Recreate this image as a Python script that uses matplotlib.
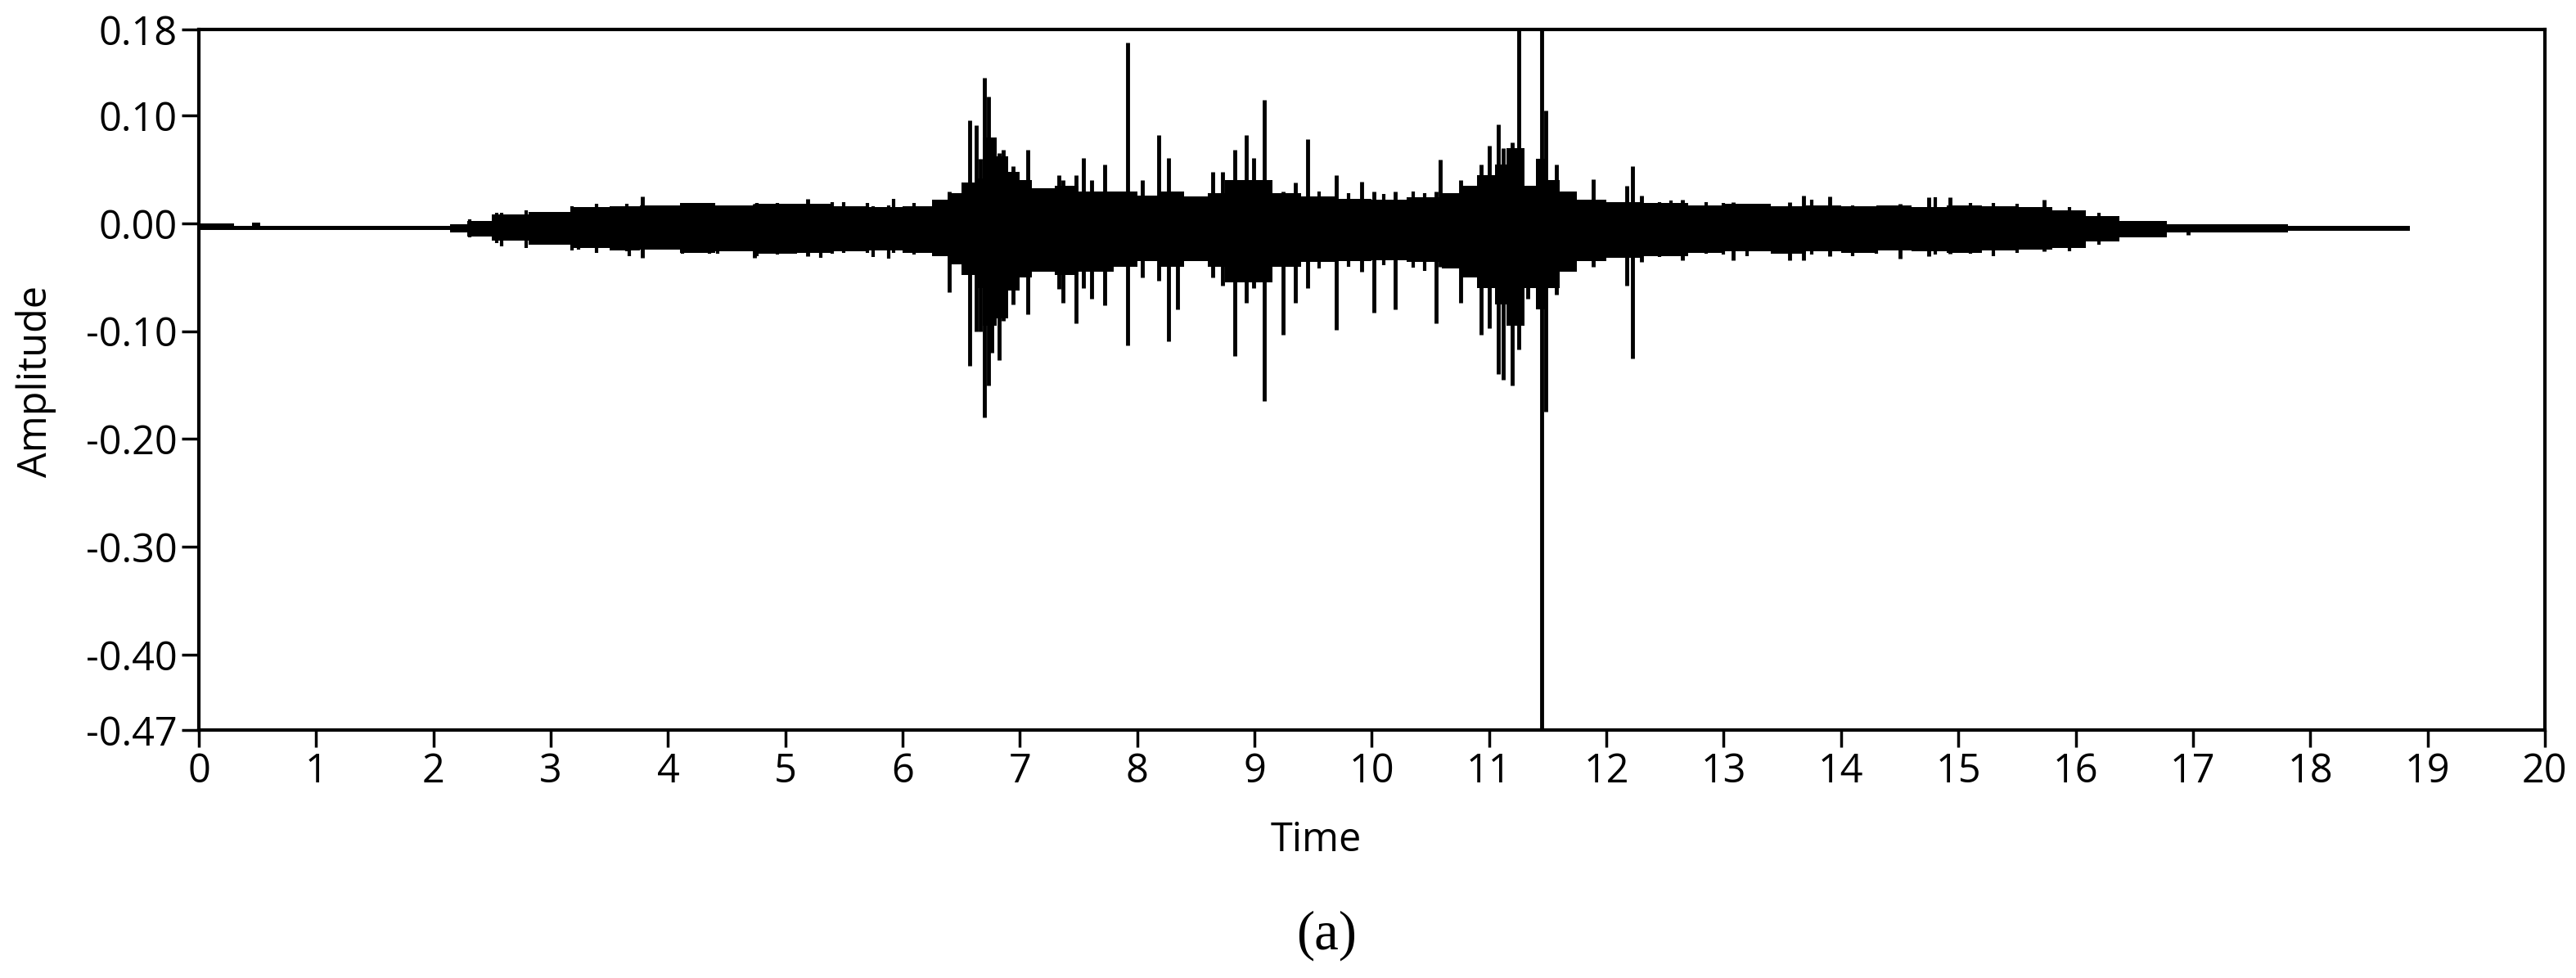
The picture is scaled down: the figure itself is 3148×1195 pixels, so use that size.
import numpy as np
import matplotlib
matplotlib.use("Agg")
import matplotlib.pyplot as plt

# envelope of the dense part of the signal (step-wise)
env_t = [0.0, 0.3, 0.45, 0.52, 2.14, 2.29, 2.5, 2.81, 3.18, 3.5, 3.76, 4.1, 4.4,
         4.74, 5.1, 5.4, 5.7, 6.0, 6.25, 6.4, 6.5, 6.62, 6.68, 6.8, 6.9, 7.0,
         7.1, 7.3, 7.5, 7.8, 8.0, 8.2, 8.4, 8.6, 8.75, 9.15, 9.4, 9.7, 10.0,
         10.3, 10.6, 10.75, 10.9, 11.05, 11.15, 11.3, 11.4, 11.5, 11.6, 11.75,
         12.0, 12.3, 12.7, 13.0, 13.4, 13.7, 14.0, 14.3, 14.6, 14.9, 15.2, 15.5,
         15.8, 16.09, 16.37, 16.78, 17.81, 18.33, 18.85]
env_hi = [0.000, -0.002, 0.001, -0.002, -0.001, 0.002, 0.008, 0.011, 0.015,
          0.016, 0.017, 0.019, 0.017, 0.018, 0.018, 0.016, 0.015, 0.016, 0.022,
          0.028, 0.038, 0.042, 0.080, 0.062, 0.048, 0.040, 0.033, 0.035, 0.030,
          0.030, 0.026, 0.030, 0.025, 0.028, 0.040, 0.028, 0.025, 0.023, 0.022,
          0.024, 0.028, 0.035, 0.045, 0.055, 0.070, 0.035, 0.060, 0.040, 0.030,
          0.022, 0.020, 0.019, 0.017, 0.018, 0.016, 0.017, 0.016, 0.017, 0.015,
          0.017, 0.016, 0.015, 0.012, 0.007, 0.002, -0.001, -0.002, -0.002, -0.002]
env_lo = [-0.006, -0.006, -0.006, -0.006, -0.008, -0.012, -0.016, -0.020,
          -0.023, -0.025, -0.024, -0.027, -0.026, -0.028, -0.027, -0.026,
          -0.025, -0.027, -0.030, -0.038, -0.048, -0.060, -0.095, -0.088,
          -0.062, -0.050, -0.045, -0.048, -0.045, -0.040, -0.035, -0.040,
          -0.035, -0.040, -0.055, -0.040, -0.036, -0.035, -0.034, -0.036,
          -0.042, -0.050, -0.060, -0.075, -0.095, -0.060, -0.080, -0.060,
          -0.045, -0.035, -0.032, -0.030, -0.027, -0.026, -0.028, -0.026,
          -0.027, -0.025, -0.026, -0.027, -0.025, -0.024, -0.023, -0.017,
          -0.013, -0.008, -0.007, -0.007, -0.007]

# single spikes sticking out of the envelope: time, top, bottom
spike_t = [3.78, 4.74, 5.19, 6.40, 6.57, 6.63, 6.66, 6.70, 6.73, 6.76, 6.82,
           6.86, 6.94, 7.07, 7.33, 7.37, 7.48, 7.54, 7.61, 7.72, 7.92, 8.04,
           8.18, 8.27, 8.34, 8.64, 8.73, 8.83, 8.93, 8.99, 9.08, 9.24, 9.35,
           9.45, 9.70, 9.91, 10.02, 10.20, 10.55, 10.58, 10.76, 10.93, 11.00,
           11.08, 11.12, 11.20, 11.25, 11.33, 11.45, 11.48, 11.57, 11.89, 12.17,
           12.22, 12.30, 12.65, 13.08, 13.56, 13.68, 13.90, 14.50, 14.75, 14.93,
           15.73, 16.96]
spike_hi = [0.025, 0.018, 0.023, 0.030, 0.096, 0.091, 0.060, 0.135, 0.118,
            0.070, 0.065, 0.068, 0.053, 0.068, 0.045, 0.040, 0.045, 0.061,
            0.040, 0.055, 0.168, 0.040, 0.082, 0.061, 0.030, 0.048, 0.048,
            0.068, 0.082, 0.061, 0.115, 0.030, 0.038, 0.078, 0.045, 0.039,
            0.030, 0.030, 0.030, 0.059, 0.040, 0.055, 0.072, 0.092, 0.070,
            0.075, 0.180, 0.035, 0.180, 0.105, 0.055, 0.041, 0.035, 0.053,
            0.026, 0.022, 0.020, 0.020, 0.026, 0.025, 0.018, 0.024, 0.024,
            0.022, -0.002]
spike_lo = [-0.032, -0.032, -0.030, -0.064, -0.132, -0.100, -0.100, -0.180,
            -0.150, -0.120, -0.127, -0.090, -0.075, -0.084, -0.061, -0.074,
            -0.093, -0.060, -0.070, -0.076, -0.113, -0.050, -0.053, -0.109,
            -0.080, -0.050, -0.058, -0.123, -0.074, -0.060, -0.165, -0.103,
            -0.074, -0.060, -0.099, -0.045, -0.083, -0.080, -0.093, -0.040,
            -0.074, -0.103, -0.097, -0.140, -0.145, -0.150, -0.117, -0.070,
            -0.470, -0.175, -0.066, -0.040, -0.058, -0.125, -0.036, -0.034,
            -0.034, -0.034, -0.034, -0.030, -0.033, -0.030, -0.028, -0.026,
            -0.011]

# small teeth on the edges of the noise band
teeth_t = [2.31, 2.54, 2.58, 2.79, 3.18, 3.24, 3.39, 3.65, 3.67, 4.12, 4.23,
           4.31, 4.35, 4.42, 4.76, 4.93, 5.30, 5.40, 5.50, 5.70, 5.75, 5.88,
           5.92, 6.10, 9.55, 9.80, 10.10, 10.35, 10.45, 12.45, 12.55, 12.85,
           13.00, 13.20, 13.45, 13.75, 14.10, 14.30, 14.80, 15.10, 15.30,
           15.50, 15.95, 16.20]
teeth_hi = [0.004, 0.010, 0.010, 0.012, 0.016, 0.015, 0.018, 0.018, 0.016,
            0.019, 0.019, 0.019, 0.018, 0.017, 0.019, 0.019, 0.018, 0.020,
            0.020, 0.019, 0.016, 0.017, 0.023, 0.019, 0.030, 0.028, 0.027,
            0.030, 0.028, 0.020, 0.021, 0.020, 0.019, 0.018, 0.016, 0.022,
            0.017, 0.016, 0.024, 0.019, 0.019, 0.018, 0.015, 0.010]
teeth_lo = [-0.013, -0.018, -0.021, -0.023, -0.025, -0.024, -0.027, -0.026,
            -0.030, -0.028, -0.027, -0.026, -0.028, -0.028, -0.030, -0.029,
            -0.032, -0.028, -0.027, -0.027, -0.031, -0.033, -0.027, -0.029,
            -0.042, -0.040, -0.039, -0.041, -0.044, -0.031, -0.030, -0.028,
            -0.029, -0.030, -0.028, -0.029, -0.030, -0.028, -0.029, -0.028,
            -0.030, -0.027, -0.026, -0.020]

x_ticks = list(range(0, 21))
y_ticks = [0.18, 0.10, 0.00, -0.10, -0.20, -0.30, -0.40, -0.47]
y_labels = ["0.18", "0.10", "0.00", "-0.10", "-0.20", "-0.30", "-0.40", "-0.47"]

plt.rcParams['font.family'] = ['Open Sans', 'DejaVu Sans']

fig = plt.figure(figsize=(31.48, 11.95), dpi=100)
ax = fig.add_axes([0.0772, 0.2536, 0.9107, 0.7163])

ax.fill_between(env_t, env_lo, env_hi, step='post', color='black', lw=0)
ax.vlines(teeth_t, teeth_lo, teeth_hi, color='black', lw=3)
ax.vlines(spike_t, spike_lo, spike_hi, color='black', lw=3.5)

ax.set_xlim(0, 20)
ax.set_ylim(-0.47, 0.18)
ax.set_xticks(x_ticks)
ax.set_xticklabels([str(v) for v in x_ticks])
ax.set_yticks(y_ticks)
ax.set_yticklabels(y_labels)

ax.tick_params(axis='both', direction='out', length=15, width=2.5,
               labelsize=35, colors='black', pad=4)
for s in ax.spines.values():
    s.set_linewidth(3)
    s.set_color('black')

fig.text(0.014, 0.61, 'Amplitude', rotation=90, ha='center', va='center', fontsize=35)
fig.text(0.511, 0.140, 'Time', ha='center', va='center', fontsize=35)
fig.text(0.515, 0.043, '(a)', ha='center', va='center', fontsize=48,
         family=['Liberation Serif', 'DejaVu Serif'])

fig.savefig('out.png', dpi=100)
